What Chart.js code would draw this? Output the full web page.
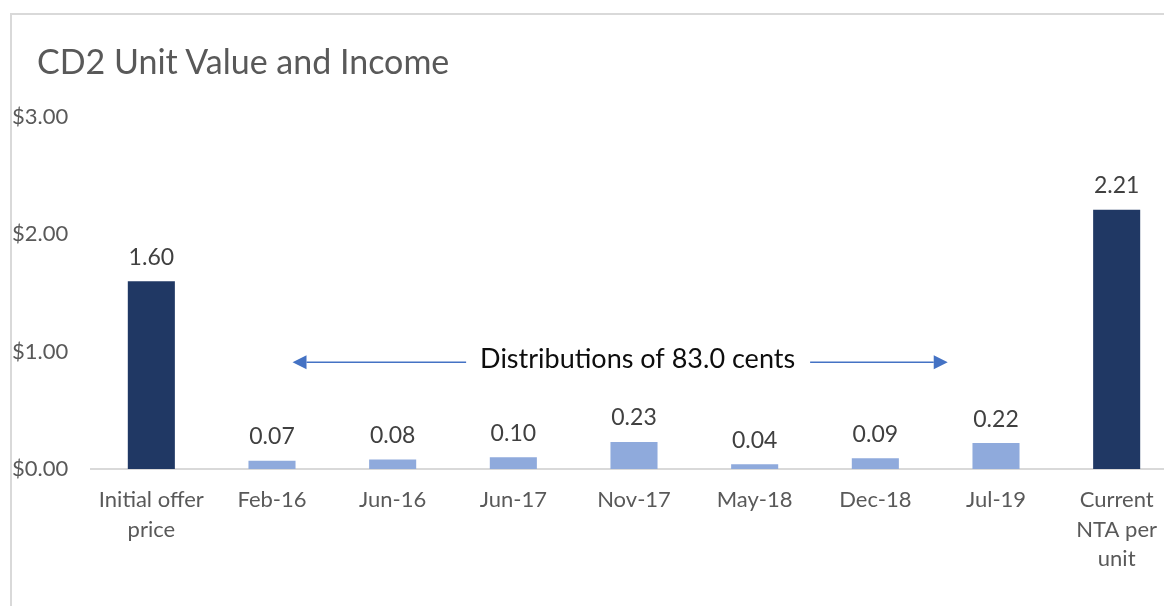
<!DOCTYPE html>
<html>
<head>
<meta charset="utf-8">
<script src="https://cdn.jsdelivr.net/npm/chart.js@4"></script>
<style>
  html, body { margin: 0; padding: 0; background: #fff; overflow: hidden; }
  #frame { position: absolute; left: 10px; top: 13px; width: 1200px; height: 600px;
           border-left: 2px solid #d9d9d9; border-top: 2px solid #d9d9d9; }
  #title { position: absolute; left: 25px; top: 25px; font-family: Lato; font-size: 34px;
           color: #595959; white-space: nowrap; }
  #chartBox { position: absolute; left: 0; top: 0; width: 1198px; height: 591px; }
</style>
</head>
<body>
<div id="frame">
  <div id="chartBox"><canvas id="unitChart"></canvas></div>
  <div id="title">CD2 Unit Value and Income</div>
</div>
<script>
var categories = [["Initial offer", "price"], "Feb-16", "Jun-16", "Jun-17", "Nov-17",
                  "May-18", "Dec-18", "Jul-19", ["Current", "NTA per", "unit"]];
var unitValues = [1.60, 0.07, 0.08, 0.10, 0.23, 0.04, 0.09, 0.22, 2.21];
var barKinds = ["value", "dist", "dist", "dist", "dist", "dist", "dist", "dist", "value"];
var yTicks = [0, 1, 2, 3];
// arrow spans (category index) and height (dollars) for the note
var noteText = "Distributions of 83.0 cents";
var noteSpan = [1.17, 6.6];
var noteCenter = 4.03;
var noteLevel = 0.91;

var kindColors = { value: "#203864", dist: "#8faadc" };

var dataLabels = {
  id: "dataLabels",
  afterDatasetsDraw: function (chart) {
    var ctx = chart.ctx;
    var meta = chart.getDatasetMeta(0);
    ctx.save();
    ctx.font = "23px Lato";
    ctx.fillStyle = "#404040";
    ctx.textAlign = "center";
    ctx.textBaseline = "middle";
    meta.data.forEach(function (bar, i) {
      ctx.fillText(unitValues[i].toFixed(2), bar.x, bar.y - 24);
    });
    ctx.restore();
  }
};

var distNote = {
  id: "distNote",
  afterDraw: function (chart) {
    var ctx = chart.ctx;
    var xs = chart.scales.x, ys = chart.scales.y;
    var y = ys.getPixelForValue(noteLevel);
    var x0 = xs.getPixelForValue(noteSpan[0]);
    var x1 = xs.getPixelForValue(noteSpan[1]);
    var xc = xs.getPixelForValue(noteCenter);
    ctx.save();
    ctx.font = "27px Lato";
    var w = ctx.measureText(noteText).width;
    ctx.fillStyle = "#0d0d0d";
    ctx.textAlign = "center";
    ctx.textBaseline = "middle";
    ctx.fillText(noteText, xc, y - 3);
    ctx.strokeStyle = "#4472c4";
    ctx.fillStyle = "#4472c4";
    ctx.lineWidth = 1.5;
    var head = 14;
    ctx.beginPath();
    ctx.moveTo(x0 + head, y);
    ctx.lineTo(xc - w / 2 - 14, y);
    ctx.moveTo(xc + w / 2 + 15, y);
    ctx.lineTo(x1 - head, y);
    ctx.stroke();
    ctx.beginPath();
    ctx.moveTo(x0, y);
    ctx.lineTo(x0 + head, y - 7);
    ctx.lineTo(x0 + head, y + 7);
    ctx.closePath();
    ctx.moveTo(x1, y);
    ctx.lineTo(x1 - head, y - 7);
    ctx.lineTo(x1 - head, y + 7);
    ctx.closePath();
    ctx.fill();
    ctx.restore();
  }
};

var ctx = document.getElementById("unitChart").getContext("2d");
var unitChart = new Chart(ctx, {
  type: "bar",
  data: {
    labels: categories,
    datasets: [
      {
        label: "CD2",
        data: unitValues,
        backgroundColor: barKinds.map(function (k) { return kindColors[k]; }),
        barPercentage: 0.39,
        categoryPercentage: 1.0,
      },
    ],
  },
  options: {
    responsive: true,
    maintainAspectRatio: false,
    animation: false,
    layout: { padding: { top: 102, bottom: 16, left: 0, right: 33 } },
    plugins: {
      legend: { display: false },
      tooltip: { enabled: false },
    },
    scales: {
      x: {
        grid: { display: false, drawTicks: false },
        border: { display: true, color: "#d9d9d9", width: 2 },
        ticks: {
          padding: 16,
          color: "#595959",
          maxRotation: 0,
          autoSkip: false,
          font: { family: "Lato", size: 22, lineHeight: 1.35 },
        },
      },
      y: {
        min: 0,
        max: 3,
        afterBuildTicks: function (scale) {
          scale.ticks = yTicks.map(function (v) { return { value: v }; });
        },
        afterFit: function (scale) { scale.width = 79; },
        grid: { display: false },
        border: { display: false },
        ticks: {
          crossAlign: "far",
          color: "#595959",
          font: { family: "Lato", size: 22 },
          callback: function (v) { return "$" + Number(v).toFixed(2); },
        },
      },
    },
  },
  plugins: [dataLabels, distNote],
});
</script>
</body>
</html>
